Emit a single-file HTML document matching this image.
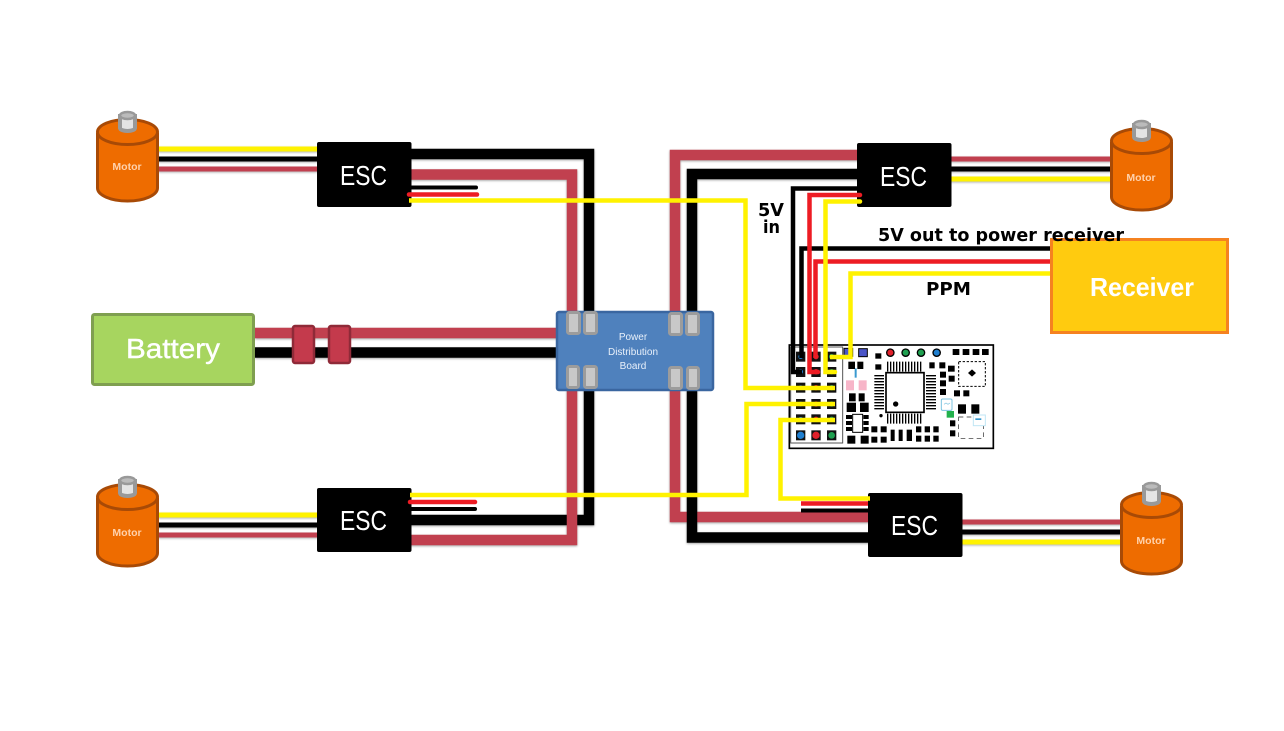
<!DOCTYPE html>
<html><head><meta charset="utf-8"><style>
html,body{margin:0;padding:0;background:#fff}
svg{display:block}
text{font-family:"Liberation Sans",sans-serif}
</style></head><body>
<svg width="1284" height="731" viewBox="0 0 1284 731" xmlns="http://www.w3.org/2000/svg">
<rect width="1284" height="731" fill="#fff"/>

<!-- motor leads -->
<g fill="none" stroke-width="5" style="filter:drop-shadow(0 1px 1px rgba(0,0,0,.3))">
<path d="M158 149H318" stroke="#fff200"/><path d="M158 159H318" stroke="#000"/><path d="M158 169H318" stroke="#c1404f"/>
<path d="M158 515H318" stroke="#fff200"/><path d="M158 525H318" stroke="#000"/><path d="M158 535H318" stroke="#c1404f"/>
<path d="M950 159H1112" stroke="#c1404f"/><path d="M950 169H1112" stroke="#000"/><path d="M950 179H1112" stroke="#fff200"/>
<path d="M961 522H1122" stroke="#c1404f"/><path d="M961 532H1122" stroke="#000"/><path d="M961 542H1122" stroke="#fff200"/>
</g>

<!-- power wires -->
<g fill="none" stroke-width="10.500" style="filter:drop-shadow(0 1px 1px rgba(0,0,0,.35))">
<path d="M255 333H560" stroke="#c1404f"/>
<path d="M255 352.500H560" stroke="#000"/>
<path d="M410 154H589V320" stroke="#000"/>
<path d="M410 174.500H572V320" stroke="#c1404f"/>
<path d="M589 380V520H410" stroke="#000"/>
<path d="M572 380V540H410" stroke="#c1404f"/>
<path d="M860 155H675V320" stroke="#c1404f"/>
<path d="M675 380V517H870" stroke="#c1404f"/>
<path d="M860 174H692V320" stroke="#000"/>
<path d="M692 380V537.500H870" stroke="#000"/>
</g>

<!-- battery -->
<rect x="92.500" y="314.500" width="161" height="70" rx="2" fill="#a7d55f" stroke="#7f9f50" stroke-width="3"/>
<text x="126" y="358" font-size="28" fill="#fff" stroke="#fff" stroke-width=".4" textLength="94" lengthAdjust="spacingAndGlyphs">Battery</text>
<rect x="293" y="326" width="21" height="37" rx="2" fill="#c43a4c" stroke="#8f2a38" stroke-width="2.500"/>
<rect x="329" y="326" width="21" height="37" rx="2" fill="#c43a4c" stroke="#8f2a38" stroke-width="2.500"/>

<!-- PDB -->
<rect x="557" y="312" width="156" height="78" rx="2" fill="#4f81bd" stroke="#3a66a0" stroke-width="2.500"/>
<g fill="#c8c8c8" stroke="#9c9c9c" stroke-width="3">
<rect x="567.500" y="312.500" width="12" height="21" rx="2"/><rect x="584.500" y="312.500" width="12" height="21" rx="2"/>
<rect x="669.500" y="313.500" width="12" height="21" rx="2"/><rect x="686.500" y="313.500" width="12" height="21" rx="2"/>
<rect x="567.500" y="366.500" width="11" height="21" rx="2"/><rect x="584.500" y="366.500" width="12" height="21" rx="2"/>
<rect x="669.500" y="367.500" width="12" height="21" rx="2"/><rect x="687.500" y="367.500" width="11" height="21" rx="2"/>
</g>
<g font-size="10" fill="#e8f0fa" text-anchor="middle">
<text x="633" y="340">Power</text><text x="633" y="355">Distribution</text><text x="633" y="369">Board</text>
</g>

<!-- ESC boxes -->
<g fill="#000">
<rect x="317" y="142" width="94.500" height="65" rx="2"/>
<rect x="857" y="143" width="94.500" height="64" rx="2"/>
<rect x="317" y="488" width="94.500" height="64" rx="2"/>
<rect x="868" y="493" width="94.500" height="64" rx="2"/>
</g>
<g font-size="28" fill="#fff">
<text x="340" y="185" textLength="47" lengthAdjust="spacingAndGlyphs">ESC</text>
<text x="880" y="186" textLength="47" lengthAdjust="spacingAndGlyphs">ESC</text>
<text x="340" y="530" textLength="47" lengthAdjust="spacingAndGlyphs">ESC</text>
<text x="891" y="535" textLength="47" lengthAdjust="spacingAndGlyphs">ESC</text>
</g>

<!-- motors -->
<g transform="translate(0,0)">
<path d="M97.500 133V188A30 13 0 0 0 157.500 188V133" fill="#ee6c00" stroke="#a84a06" stroke-width="3"/>
<ellipse cx="127.500" cy="132" rx="30" ry="12.500" fill="#ee6c00" stroke="#a84a06" stroke-width="3"/>
<path d="M120 116V128A7.500 3 0 0 0 135 128V116Z" fill="#e4e4e4" stroke="#999" stroke-width="4"/>
<ellipse cx="127.500" cy="115.500" rx="7.500" ry="3.500" fill="#bbb" stroke="#999" stroke-width="2.500"/>
<text x="127" y="170" font-size="10.500" font-weight="bold" fill="#ffd2ac" text-anchor="middle">Motor</text>
</g>
<g transform="translate(1014,9)">
<path d="M97.500 133V188A30 13 0 0 0 157.500 188V133" fill="#ee6c00" stroke="#a84a06" stroke-width="3"/>
<ellipse cx="127.500" cy="132" rx="30" ry="12.500" fill="#ee6c00" stroke="#a84a06" stroke-width="3"/>
<path d="M120 116V128A7.500 3 0 0 0 135 128V116Z" fill="#e4e4e4" stroke="#999" stroke-width="4"/>
<ellipse cx="127.500" cy="115.500" rx="7.500" ry="3.500" fill="#bbb" stroke="#999" stroke-width="2.500"/>
<text x="127" y="172" font-size="10.500" font-weight="bold" fill="#ffd2ac" text-anchor="middle">Motor</text>
</g>
<g transform="translate(0,365)">
<path d="M97.500 133V188A30 13 0 0 0 157.500 188V133" fill="#ee6c00" stroke="#a84a06" stroke-width="3"/>
<ellipse cx="127.500" cy="132" rx="30" ry="12.500" fill="#ee6c00" stroke="#a84a06" stroke-width="3"/>
<path d="M120 116V128A7.500 3 0 0 0 135 128V116Z" fill="#e4e4e4" stroke="#999" stroke-width="4"/>
<ellipse cx="127.500" cy="115.500" rx="7.500" ry="3.500" fill="#bbb" stroke="#999" stroke-width="2.500"/>
<text x="127" y="171" font-size="10.500" font-weight="bold" fill="#ffd2ac" text-anchor="middle">Motor</text>
</g>
<g transform="translate(1024,373)">
<path d="M97.500 133V188A30 13 0 0 0 157.500 188V133" fill="#ee6c00" stroke="#a84a06" stroke-width="3"/>
<ellipse cx="127.500" cy="132" rx="30" ry="12.500" fill="#ee6c00" stroke="#a84a06" stroke-width="3"/>
<path d="M120 114V128A7.500 3 0 0 0 135 128V114Z" fill="#e4e4e4" stroke="#999" stroke-width="4"/>
<ellipse cx="127.500" cy="113.500" rx="7.500" ry="3.500" fill="#bbb" stroke="#999" stroke-width="2.500"/>
<text x="127" y="171" font-size="10.500" font-weight="bold" fill="#ffd2ac" text-anchor="middle">Motor</text>
</g>

<!-- flight controller, in 3x zoom coordinates -->
<g transform="translate(780,335) scale(.33333)">
<rect x="28" y="30" width="612" height="310" fill="#fff" stroke="#000" stroke-width="5"/>
<rect x="32" y="36" width="156" height="288" fill="#fff" stroke="#555" stroke-width="3"/>
<g fill="#111">
<rect x="48" y="50" width="28" height="30"/><rect x="94" y="50" width="28" height="30"/><rect x="141" y="50" width="28" height="30"/>
<rect x="48" y="96" width="28" height="30"/><rect x="94" y="96" width="28" height="30"/><rect x="141" y="96" width="28" height="30"/>
<rect x="48" y="143" width="28" height="30"/><rect x="94" y="143" width="28" height="30"/><rect x="141" y="143" width="28" height="30"/>
<rect x="48" y="192" width="28" height="30"/><rect x="94" y="192" width="28" height="30"/><rect x="141" y="192" width="28" height="30"/>
<rect x="48" y="238" width="28" height="30"/><rect x="94" y="238" width="28" height="30"/><rect x="141" y="238" width="28" height="30"/>
<rect x="48" y="286" width="28" height="30"/><rect x="94" y="286" width="28" height="30"/><rect x="141" y="286" width="28" height="30"/>
</g>
<g fill="#1f7fd0">
<circle cx="62" cy="65" r="7"/><circle cx="62" cy="110" r="7"/><circle cx="62" cy="158" r="7"/><circle cx="62" cy="207" r="7"/><circle cx="62" cy="253" r="7"/><circle cx="62" cy="301" r="11"/>
</g>
<g fill="#e0202a">
<circle cx="108" cy="65" r="8"/><circle cx="108" cy="110" r="8"/><circle cx="108" cy="158" r="8"/><circle cx="108" cy="207" r="8"/><circle cx="108" cy="253" r="8"/><circle cx="108" cy="301" r="11"/>
</g>
<g fill="#1fa050">
<circle cx="155" cy="65" r="8"/><circle cx="155" cy="110" r="8"/><circle cx="155" cy="158" r="8"/><circle cx="155" cy="207" r="8"/><circle cx="155" cy="253" r="8"/><circle cx="155" cy="301" r="10"/>
</g>
<!-- colored pads -->
<rect x="192" y="40" width="26" height="24" fill="#4a55c8" stroke="#000" stroke-width="3"/>
<rect x="236" y="41" width="26" height="24" fill="#4a55c8" stroke="#000" stroke-width="3"/>
<rect x="198" y="136" width="24" height="30" fill="#f7b5c8"/><rect x="236" y="136" width="24" height="30" fill="#f7b5c8"/>
<rect x="224" y="100" width="6" height="28" fill="#3a9ad0"/>
<rect x="500" y="228" width="22" height="20" fill="#22b14c"/>
<!-- LEDs -->
<circle cx="331" cy="53" r="11" fill="#e0202a" stroke="#000" stroke-width="4"/>
<circle cx="377" cy="53" r="11" fill="#1fa050" stroke="#000" stroke-width="4"/>
<circle cx="423" cy="53" r="11" fill="#1fa050" stroke="#000" stroke-width="4"/>
<circle cx="470" cy="53" r="11" fill="#1f7fd0" stroke="#000" stroke-width="4"/>
<!-- black parts -->
<g fill="#000">
<rect x="205" y="80" width="20" height="22"/><rect x="232" y="80" width="18" height="22"/>
<rect x="207" y="175" width="20" height="24"/><rect x="236" y="175" width="18" height="24"/>
<rect x="200" y="203" width="28" height="28"/><rect x="240" y="203" width="26" height="28"/>
<rect x="198" y="240" width="18" height="12"/><rect x="198" y="258" width="18" height="12"/><rect x="198" y="276" width="18" height="12"/>
<rect x="250" y="240" width="16" height="12"/><rect x="250" y="258" width="16" height="12"/><rect x="250" y="276" width="16" height="12"/>
<rect x="202" y="302" width="24" height="24"/><rect x="242" y="302" width="24" height="24"/>
<rect x="286" y="55" width="18" height="16"/><rect x="286" y="88" width="18" height="16"/>
<rect x="274" y="274" width="18" height="18"/><rect x="302" y="274" width="18" height="18"/>
<rect x="274" y="305" width="18" height="18"/><rect x="302" y="305" width="18" height="18"/>
<rect x="332" y="284" width="12" height="34"/><rect x="356" y="284" width="12" height="34"/><rect x="380" y="284" width="16" height="34"/>
<rect x="408" y="274" width="16" height="18"/><rect x="434" y="274" width="16" height="18"/><rect x="460" y="274" width="16" height="18"/>
<rect x="408" y="302" width="16" height="18"/><rect x="434" y="302" width="16" height="18"/><rect x="460" y="302" width="16" height="18"/>
<rect x="518" y="42" width="20" height="18"/><rect x="548" y="42" width="20" height="18"/><rect x="578" y="42" width="20" height="18"/><rect x="606" y="42" width="20" height="18"/>
<rect x="448" y="82" width="16" height="18"/><rect x="478" y="82" width="18" height="18"/><rect x="504" y="92" width="20" height="18"/>
<rect x="480" y="110" width="18" height="18"/><rect x="506" y="122" width="18" height="18"/><rect x="480" y="136" width="18" height="18"/><rect x="480" y="162" width="18" height="18"/>
<rect x="522" y="166" width="18" height="18"/><rect x="550" y="166" width="18" height="18"/>
<rect x="534" y="208" width="24" height="28"/><rect x="574" y="208" width="24" height="28"/>
<rect x="510" y="256" width="16" height="18"/><rect x="510" y="286" width="16" height="18"/>
<path d="M576 103l12 11-12 11-12-11z"/>
<circle cx="303" cy="242" r="5"/>
</g>
<!-- QFN -->
<rect x="536" y="80" width="80" height="74" fill="none" stroke="#000" stroke-width="3" stroke-dasharray="7 5"/>
<!-- main chip -->
<g stroke="#000" stroke-width="4" fill="none">
<path d="M323 80V110M332 80V110M341 80V110M350 80V110M359 80V110M368 80V110M377 80V110M386 80V110M395 80V110M404 80V110M413 80V110M422 80V110"/>
<path d="M323 236V266M332 236V266M341 236V266M350 236V266M359 236V266M368 236V266M377 236V266M386 236V266M395 236V266M404 236V266M413 236V266M422 236V266"/>
<path d="M283 122H312M283 131H312M283 140H312M283 149H312M283 158H312M283 167H312M283 176H312M283 185H312M283 194H312M283 203H312M283 212H312M283 221H312"/>
<path d="M438 122H468M438 131H468M438 140H468M438 149H468M438 158H468M438 167H468M438 176H468M438 185H468M438 194H468M438 203H468M438 212H468M438 221H468"/>
</g>
<rect x="318" y="113" width="114" height="119" fill="#fff" stroke="#000" stroke-width="5"/>
<circle cx="347" cy="207" r="8" fill="#000"/>
<rect x="218" y="238" width="30" height="54" fill="#fff" stroke="#000" stroke-width="3"/>
<rect x="536" y="246" width="74" height="64" fill="#fff" stroke="#222" stroke-width="2" stroke-dasharray="14 10"/>
<rect x="580" y="240" width="36" height="32" fill="#fff" stroke="#bfe6f5" stroke-width="3"/>
<rect x="586" y="250" width="18" height="5" fill="#3a9ad0"/>
<rect x="484" y="192" width="32" height="34" rx="4" fill="#fff" stroke="#7cc4e0" stroke-width="3"/>
<path d="M492 208l6-4 6 4 6-4" stroke="#7cc4e0" stroke-width="2" fill="none"/>
</g>

<!-- signal wires -->
<g fill="none" stroke-width="4.500" stroke-linejoin="miter">
<path d="M476 187.500H411" stroke="#000" stroke-width="4" stroke-linecap="round"/>
<path d="M409 194.500H477" stroke="#ed1c24" stroke-linecap="round"/>
<path d="M409 200.500H745.500V388H835" stroke="#fff200"/>
<path d="M410 495H746.500V404H835" stroke="#fff200"/>
<path d="M410 502H475" stroke="#ed1c24" stroke-linecap="round"/>
<path d="M410 509H475" stroke="#000" stroke-width="4" stroke-linecap="round"/>
<path d="M870 498.500H780.500V420H835" stroke="#fff200"/>
<path d="M801 503.500H868" stroke="#ed1c24"/>
<path d="M801 510.500H868" stroke="#000" stroke-width="4"/>

<path d="M858 188.500H793V372H802" stroke="#000"/>
<path d="M1052 248.500H801.500V358" stroke="#000"/>
<path d="M860 195H809.500V372H818" stroke="#ed1c24" stroke-linecap="round"/>
<path d="M1052 261.500H815.500V358" stroke="#ed1c24"/>
<path d="M860 201.500H825.500V372H835" stroke="#fff200" stroke-linecap="round"/>
<path d="M1052 273.500H850.500V357H830" stroke="#fff200"/>
</g>

<!-- receiver -->
<rect x="1051.500" y="239.500" width="176" height="93" fill="#ffcb0f" stroke="#f58220" stroke-width="3"/>
<text x="1090" y="296" font-size="26" font-weight="bold" fill="#fff" textLength="104" lengthAdjust="spacingAndGlyphs">Receiver</text>

<!-- labels -->
<g font-size="18" font-weight="bold" fill="#000">
<text x="878" y="241" textLength="246" lengthAdjust="spacingAndGlyphs" style="font-family:'DejaVu Sans',sans-serif">5V out to power receiver</text>
<text x="926" y="295" textLength="45" lengthAdjust="spacingAndGlyphs" style="font-family:'DejaVu Sans',sans-serif">PPM</text>
<text x="758" y="216" textLength="26" lengthAdjust="spacingAndGlyphs" style="font-family:'DejaVu Sans',sans-serif">5V</text>
<text x="763" y="233" textLength="17" lengthAdjust="spacingAndGlyphs" style="font-family:'DejaVu Sans',sans-serif">in</text>
</g>
</svg>
</body></html>
